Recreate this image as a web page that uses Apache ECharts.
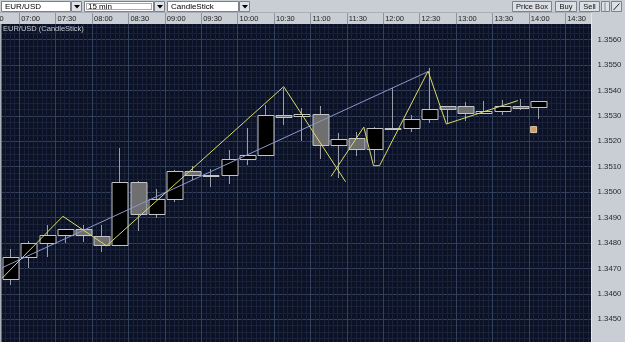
<!DOCTYPE html>
<html><head><meta charset="utf-8">
<script src="https://cdn.jsdelivr.net/npm/echarts@6/dist/echarts.min.js"></script>
<style>html,body{margin:0;padding:0;background:#0b1226;overflow:hidden}#c{width:625px;height:342px}</style>
</head><body><div id="c"></div>
<script>
// ---- data ----
const slotTimes = ['06:45','07:00','07:15','07:30','07:45','08:00','08:15','08:30','08:45','09:00',
  '09:15','09:30','09:45','10:00','10:15','10:30','10:45','11:00','11:15','11:30',
  '11:45','12:00','12:15','12:30','12:45','13:00','13:15','13:30','13:45','14:00'];
const opens  = [1.34660,1.34745,1.34800,1.34832,1.34855,1.34826,1.34792,1.35040,1.34914,1.34973,
  1.35084,1.35069,1.35069,1.35130,1.35147,1.35305,1.35298,1.35309,1.35187,1.35213,
  1.35170,1.35252,1.35252,1.35288,1.35337,1.35337,1.35311,1.35318,1.35340,1.35333];
const highs  = [1.34778,1.34806,1.34872,1.34855,1.34869,1.34872,1.35174,1.35045,1.35012,1.35088,
  1.35104,1.35091,1.35167,1.35252,1.35344,1.35411,1.35332,1.35337,1.35232,1.35238,
  1.35255,1.35410,1.35305,1.35488,1.35339,1.35355,1.35357,1.35364,1.35366,1.35359];
const lows   = [1.34636,1.34703,1.34746,1.34802,1.34805,1.34766,1.34790,1.34848,1.34898,1.34960,
  1.35049,1.35020,1.35032,1.35108,1.35147,1.35265,1.35200,1.35130,1.35056,1.35143,
  1.35115,1.35250,1.35235,1.35272,1.35272,1.35278,1.35310,1.35305,1.35324,1.35289];
const closes = [1.34745,1.34800,1.34832,1.34855,1.34830,1.34792,1.35040,1.34914,1.34973,1.35084,
  1.35069,1.35066,1.35130,1.35147,1.35302,1.35296,1.35309,1.35187,1.35210,1.35170,
  1.35252,1.35254,1.35289,1.35327,1.35328,1.35311,1.35321,1.35340,1.35332,1.35357];

const zigzagATimes = ['06:46','07:36','08:12','10:38','11:29'];
const zigzagAPrices = [1.34662,1.34905,1.34789,1.35415,1.35041];
const zigzagBTimes = ['11:17','11:44','11:52','11:57','12:37','12:52','13:51'];
const zigzagBPrices = [1.35062,1.35256,1.35104,1.35104,1.35476,1.35268,1.35360];
const trendTimes = ['06:46','12:36'];
const trendPrices = [1.34703,1.35472];
const markerTime = '14:04';
const markerPrice = 1.35246;

const toMin = s => { const p = s.split(':').map(Number); return p[0]*60 + p[1]; };
const fmtMin = v => { const h = Math.floor(v/60), m = Math.round(v%60); return (h<10?'0':'')+h+':'+(m<10?'0':'')+m; };

const candleData = slotTimes.map((s,i) => [toMin(s)+7.5, opens[i], closes[i], lows[i], highs[i]]);
const pairs = (ts, ps) => ts.map((t,i) => [toMin(t), ps[i]]);

const FONT = "'Liberation Sans',Arial,sans-serif";
const MAJOR = '#33405c', MINOR = '#19223a';
const PANEL = '#c9cdd4', BORDER = '#7c828c';

const chart = echarts.init(document.getElementById('c'), null, {renderer:'canvas'});

function dropdown(x, w, label, dotted) {
  const els = [
    {type:'rect', z:6, shape:{x:x+0.5,y:1.5,width:w,height:10}, style:{fill:'#ffffff',stroke:BORDER,lineWidth:1}},
    {type:'text', z:7, x:x+4, y:7, style:{text:label,font:'8px '+FONT,fill:'#000',verticalAlign:'middle'}},
    {type:'rect', z:6, shape:{x:x+w+1.5,y:1.5,width:10,height:10}, style:{fill:'#dfe2e6',stroke:BORDER,lineWidth:1}},
    {type:'polygon', z:7, shape:{points:[[x+w+4,5],[x+w+10,5],[x+w+7,8.5]]}, style:{fill:'#000'}}
  ];
  if (dotted) els.push({type:'rect', z:7, shape:{x:x+2.5,y:3.5,width:w-4,height:6}, style:{fill:null,stroke:'#555',lineWidth:1,lineDash:[1,1]}});
  return els;
}
function button(x, w, label) {
  return [
    {type:'rect', z:6, shape:{x:x+0.5,y:1.5,width:w,height:10}, style:{fill:'#dcdfe4',stroke:BORDER,lineWidth:1}},
    {type:'text', z:7, x:x+w/2+0.5, y:7, style:{text:label,font:'7.5px '+FONT,fill:'#111',align:'center',verticalAlign:'middle'}}
  ];
}

const graphics = [
  {type:'rect', z:3, shape:{x:0,y:0,width:625,height:24}, style:{fill:PANEL}},
  {type:'line', z:3, shape:{x1:0,y1:12.5,x2:625,y2:12.5}, style:{stroke:'#a9aeb7',lineWidth:1}},
  {type:'rect', z:5, shape:{x:591.5,y:0,width:34,height:342}, style:{fill:PANEL}},
  {type:'line', z:5, shape:{x1:591.5,y1:13,x2:591.5,y2:342}, style:{stroke:'#e4e6ea',lineWidth:1}},
  {type:'rect', z:5, shape:{x:0,y:24,width:1.5,height:318}, style:{fill:'#aab0ba'}},
  {type:'text', z:6, x:3, y:29, style:{text:'EUR/USD (CandleStick)',font:'7.5px '+FONT,fill:'#c4c8d2',verticalAlign:'middle'}},
  ...dropdown(1, 69, 'EUR/USD', false),
  ...dropdown(84, 69, '15 min', true),
  ...dropdown(167, 71, 'CandleStick', false),
  ...button(512, 39, 'Price Box'),
  ...button(555, 21, 'Buy'),
  ...button(579, 20, 'Sell'),
  {type:'rect', z:6, shape:{x:601.5,y:1.5,width:8,height:10}, style:{fill:'#dcdfe4',stroke:BORDER,lineWidth:1}},
  {type:'text', z:7, x:605.5, y:7, style:{text:'\u2502',font:'7px '+FONT,fill:'#333',align:'center',verticalAlign:'middle'}},
  {type:'rect', z:6, shape:{x:611.5,y:1.5,width:10,height:10}, style:{fill:'#dcdfe4',stroke:BORDER,lineWidth:1}},
  {type:'line', z:7, shape:{x1:613.5,y1:10,x2:619.5,y2:3.5}, style:{stroke:'#222',lineWidth:1}}
];

const X_MIN = toMin('06:30'), X_MAX = toMin('15:00');

chart.setOption({
  animation: false,
  backgroundColor: '#0b1226',
  grid: {left:-17.2, right:23.4, top:14.14, bottom:-2.73, containLabel:false, outerBoundsMode:'none'},
  xAxis: [
    {type:'value', min:X_MIN, max:X_MAX, interval:30, z:0,
     axisLine:{show:false}, axisTick:{show:false}, axisLabel:{show:false},
     splitLine:{show:true, lineStyle:{color:MAJOR,width:1}},
     minorTick:{show:false, splitNumber:8},
     minorSplitLine:{show:true, lineStyle:{color:MINOR,width:1}}},
    {type:'value', position:'top', offset:-9.86, min:X_MIN, max:X_MAX, interval:30, z:4,
     axisLine:{show:false},
     axisTick:{show:true, length:11, inside:false, lineStyle:{color:'#8e959f',width:1}},
     axisLabel:{show:true, formatter:v => fmtMin(v), align:'left', padding:[0,0,0,2], margin:5.5,
       verticalAlign:'middle', color:'#1c1c1c', fontSize:7.5, fontFamily:FONT, showMaxLabel:false},
     splitLine:{show:false}}
  ],
  yAxis: [
    {type:'value', min:1.3440, max:1.3570, interval:0.001, z:0,
     axisLine:{show:false}, axisTick:{show:false}, axisLabel:{show:false},
     splitLine:{show:true, lineStyle:{color:MAJOR,width:1}},
     minorTick:{show:false, splitNumber:4},
     minorSplitLine:{show:true, lineStyle:{color:MINOR,width:1}}},
    {type:'value', position:'right', offset:-10, min:1.3440, max:1.3570, interval:0.001, z:10,
     axisLine:{show:false}, axisTick:{show:false}, splitLine:{show:false},
     axisLabel:{show:true, margin:6, align:'left', color:'#2a2a2a', fontSize:7.8, fontFamily:FONT,
       showMinLabel:false, showMaxLabel:false, formatter:v => v.toFixed(4)}}
  ],
  graphic: {elements: graphics},
  series: [
    {type:'custom', name:'EUR/USD', xAxisIndex:0, yAxisIndex:0, z:2,
     data:candleData, encode:{x:0, y:[1,2,3,4]},
     renderItem:(params, api) => {
       const t = api.value(0), o = api.value(1), c = api.value(2), l = api.value(3), h = api.value(4);
       const pO = api.coord([t,o]), pC = api.coord([t,c]), pL = api.coord([t,l]), pH = api.coord([t,h]);
       const w = Math.round(api.size([13,0])[0]);
       const cx = Math.round(pO[0]) + 0.5;
       const top = Math.round(Math.min(pO[1],pC[1])) + 0.5;
       const bot = Math.round(Math.max(pO[1],pC[1])) + 0.5;
       const up = c >= o;
       return {type:'group', children:[
         {type:'line', shape:{x1:cx,y1:Math.round(pH[1]),x2:cx,y2:Math.round(pL[1])}, style:{stroke:'#9a9ea6',lineWidth:1}},
         {type:'rect', shape:{x:Math.round(cx - w/2),y:top,width:w,height:Math.max(bot-top,1)},
          style:{fill: up ? '#000000' : '#6f6f6f', stroke:'#c2c4c8', lineWidth:1}}
       ]};
     }},
    {type:'line', name:'trend', data:pairs(trendTimes,trendPrices), symbol:'none', silent:true, z:3,
     lineStyle:{color:'#8a97cc',width:1}},
    {type:'line', name:'zigzagA', data:pairs(zigzagATimes,zigzagAPrices), symbol:'none', silent:true, z:3,
     lineStyle:{color:'#dada66',width:1}},
    {type:'line', name:'zigzagB', data:pairs(zigzagBTimes,zigzagBPrices), symbol:'none', silent:true, z:3,
     lineStyle:{color:'#dada66',width:1}},
    {type:'scatter', name:'marker', data:[[toMin(markerTime), markerPrice]], symbol:'rect', symbolSize:6, z:3,
     itemStyle:{color:'#f6c27c', borderColor:'#ffe2b4', borderWidth:1}}
  ]
});
</script></body></html>
